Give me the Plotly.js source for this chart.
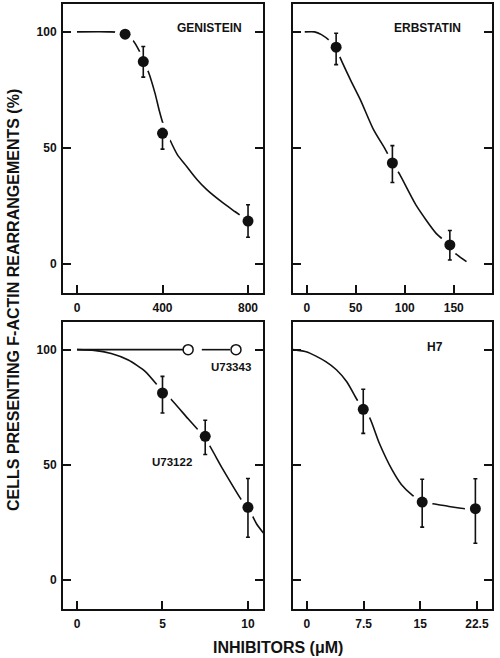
<!DOCTYPE html>
<html>
<head>
<meta charset="utf-8">
<script src="https://cdn.plot.ly/plotly-3.0.1.min.js"></script>
<style>html,body{margin:0;padding:0;background:#fff;}#chart{width:500px;height:658px;}</style>
</head>
<body>
<div id="chart"></div>
<script>
// ---------- Data ----------
// Genistein
const genX = [225, 310, 400, 800];
const genY = [99, 87.2, 56.3, 18.5];
const genErrUp = [0, 6.5, 2, 7];
const genErrDn = [0, 6.7, 6.8, 7];
const genCurveX = [0, 150, 200, 225, 260, 290, 310, 335, 365, 385, 404, 435, 470, 513, 560, 607, 680, 740, 800, 835];
const genCurveY = [100, 100, 99.8, 99, 96.5, 92, 87.5, 82.5, 73.5, 66, 60, 53.4, 47, 42, 36.5, 32, 26.5, 22.5, 18.5, 16];

// Erbstatin
const erbX = [30, 87.4, 146];
const erbY = [93.4, 43.5, 8.2];
const erbErrUp = [6, 7.5, 6.2];
const erbErrDn = [7.5, 8.4, 6.5];
const erbCurveX = [-2, 8, 15, 24, 30, 34, 45, 55, 68, 80, 87, 95, 112, 132, 146, 151, 163];
const erbCurveY = [100, 100, 98.8, 96, 93.4, 89, 79, 70.5, 58, 49.5, 44, 38.5, 25, 13.2, 8, 4.8, 1];

// U73122 (filled) and U73343 (open)
const u122X = [5, 7.5, 10];
const u122Y = [81.2, 62.4, 31.6];
const u122ErrUp = [7.2, 7, 12.5];
const u122ErrDn = [8.7, 7.9, 13];
const u122CurveX = [0, 1, 2, 3, 4, 5, 5.5, 6.5, 7.5, 8.5, 9.65, 10, 10.5, 10.9];
const u122CurveY = [100, 99.7, 98.3, 95.5, 90.5, 82, 78.5, 70, 61.5, 48.5, 34.5, 31.5, 24.5, 20.5];
const u343X = [6.5, 9.3];
const u343Y = [100, 100];
const u343LineX = [0, 6.2, null, 7.3, 8.95];
const u343LineY = [100, 100, null, 100, 100];

// H7
const h7X = [7.46, 15.26, 22.3];
const h7Y = [74.1, 33.9, 31];
const h7ErrUp = [8.7, 9.9, 13];
const h7ErrDn = [10.4, 10.9, 15];
const h7CurveX = [-1.84, 0, 1.2, 2.5, 3.9, 5.3, 6.6, 7.46, 8.3, 9.6, 11.3, 12.5, 13.9, 15.26, 16.5, 18.8, 21.4, 22.3];
const h7CurveY = [100, 99, 97.2, 94.8, 91.3, 86, 78.5, 74.1, 70.5, 59.3, 47.7, 41.5, 37, 34, 33.3, 32, 30.8, 30.5];

// Tick labels
const yTicks = [0, 50, 100];
const genTicks = [0, 400, 800];
const erbTicks = [0, 50, 100, 150];
const uTicks = [0, 5, 10];
const h7Ticks = [0, 7.5, 15, 22.5];
const h7TickText = ['0', '7.5', '15', '22.5'];

// ---------- Build traces ----------
const FONT = 'Liberation Sans, Arial, Helvetica, sans-serif';
const traces = [];
function panel(xa, ya, cx, cy, px, py, up, dn) {
  traces.push({x: cx, y: cy, xaxis: xa, yaxis: ya, mode: 'lines', type: 'scatter',
    line: {color: '#111', width: 1.6, shape: 'spline', smoothing: 0.6}, hoverinfo: 'skip', connectgaps: false});
  traces.push({x: px, y: py, xaxis: xa, yaxis: ya, mode: 'markers', type: 'scatter',
    marker: {color: '#fff', size: 21}, hoverinfo: 'skip'});
  traces.push({x: px, y: py, xaxis: xa, yaxis: ya, mode: 'markers', type: 'scatter',
    marker: {color: '#111', size: 11},
    error_y: {type: 'data', symmetric: false, array: up, arrayminus: dn, color: '#111', thickness: 1.6, width: 2}});
}
panel('x', 'y', genCurveX, genCurveY, genX, genY, genErrUp, genErrDn);
panel('x2', 'y2', erbCurveX, erbCurveY, erbX, erbY, erbErrUp, erbErrDn);
// U73343 line and open markers
traces.push({x: u343LineX, y: u343LineY, xaxis: 'x3', yaxis: 'y3', mode: 'lines', type: 'scatter',
  line: {color: '#111', width: 1.6}, connectgaps: false, hoverinfo: 'skip'});
traces.push({x: u343X, y: u343Y, xaxis: 'x3', yaxis: 'y3', mode: 'markers', type: 'scatter',
  marker: {color: '#fff', size: 10, line: {color: '#111', width: 1.5}}});
panel('x3', 'y3', u122CurveX, u122CurveY, u122X, u122Y, u122ErrUp, u122ErrDn);
panel('x4', 'y4', h7CurveX, h7CurveY, h7X, h7Y, h7ErrUp, h7ErrDn);

// ---------- Layout ----------
const W = 500, H = 658;
function xd(l, r) { return [l / W, r / W]; }
function yd(t, b) { return [1 - b / H, 1 - t / H]; }
function xaxis(dom, range, ticks, text, anchor) {
  return {domain: dom, range: range, anchor: anchor, tickmode: 'array', tickvals: ticks,
    ticktext: text || ticks.map(String), ticks: 'inside', ticklen: 8, tickwidth: 2, tickcolor: '#111',
    showline: true, linecolor: '#111', linewidth: 2, mirror: true, showgrid: false, zeroline: false,
    tickfont: {family: FONT, size: 12, color: '#111', weight: 'bold'}, ticklabelstandoff: 3, fixedrange: true};
}
function yaxis(dom, labels, anchor) {
  return {domain: dom, range: [-12.5, 112], anchor: anchor, tickmode: 'array', tickvals: yTicks,
    ticks: 'inside', ticklen: 8, tickwidth: 2, tickcolor: '#111', showticklabels: labels,
    showline: true, linecolor: '#111', linewidth: 2, mirror: 'ticks', showgrid: false, zeroline: false,
    tickfont: {family: FONT, size: 12, color: '#111', weight: 'bold'}, ticklabelstandoff: 2, fixedrange: true};
}
const topD = yd(4, 293), botD = yd(322, 609);
const leftD = xd(63, 263), rightD = xd(293, 492);
function ann(text, x, y, size, extra) {
  return Object.assign({text: text, xref: 'paper', yref: 'paper', x: x / W, y: 1 - y / H,
    xanchor: 'center', yanchor: 'middle', showarrow: false,
    font: {family: FONT, size: size, color: '#111', weight: 'bold'}}, extra || {});
}
const layout = {
  width: W, height: H, margin: {l: 0, r: 0, t: 0, b: 0}, showlegend: false,
  paper_bgcolor: '#fff', plot_bgcolor: '#fff',
  font: {family: FONT, color: '#111'},
  xaxis: xaxis(leftD, [-65.5, 870], genTicks, null, 'y'),
  yaxis: yaxis(topD, true, 'x'),
  xaxis2: xaxis(rightD, [-14, 189], erbTicks, null, 'y2'),
  yaxis2: yaxis(topD, false, 'x2'),
  xaxis3: xaxis(leftD, [-0.82, 10.88], uTicks, null, 'y3'),
  yaxis3: yaxis(botD, true, 'x3'),
  xaxis4: xaxis(rightD, [-1.84, 24.5], h7Ticks, h7TickText, 'y4'),
  yaxis4: yaxis(botD, false, 'x4'),
  annotations: [
    ann('GENISTEIN', 209, 28, 12),
    ann('ERBSTATIN', 427, 28, 12),
    ann('H7', 435, 347, 12),
    ann('U73343', 231, 367, 11.5),
    ann('U73122', 172, 462, 11.5),
    ann('INHIBITORS (μM)', 278, 647, 16),
    ann('CELLS PRESENTING F-ACTIN REARRANGEMENTS (%)', 13, 300, 16, {textangle: -90})
  ]
};
Plotly.newPlot('chart', traces, layout, {staticPlot: true, displayModeBar: false});
</script>
</body>
</html>
